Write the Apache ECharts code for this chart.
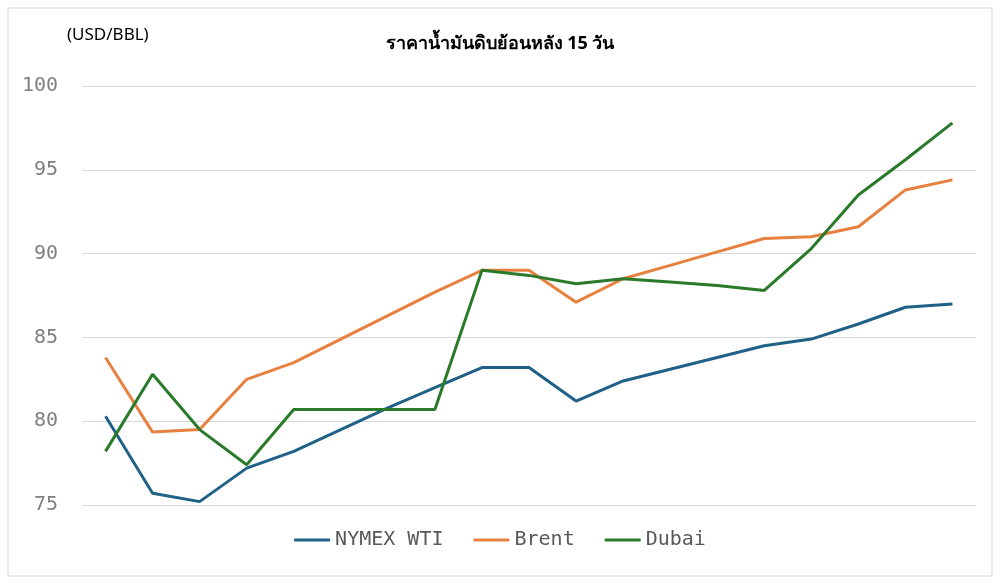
<!DOCTYPE html>
<html><head><meta charset="utf-8">
<script src="https://cdn.jsdelivr.net/npm/echarts@6/dist/echarts.min.js"></script>
<style>html,body{margin:0;background:#fff}#c{width:1000px;height:585px}</style>
</head><body><div id="c"></div>
<script>
const categories = ['1','2','3','4','5','6','7','8','9','10','11','12','13','14','15','16','17','18','19'];
const wti   = [80.3,75.7,75.2,77.2,78.2,79.5,80.8,82.0,83.2,83.2,81.2,82.4,83.1,83.8,84.5,84.9,85.8,86.8,87.0];
const brent = [83.8,79.35,79.5,82.5,83.5,84.9,86.3,87.7,89.0,89.0,87.1,88.5,89.3,90.1,90.9,91.0,91.6,93.8,94.4];
const dubai = [78.2,82.8,79.5,77.4,80.7,80.7,80.7,80.7,89.0,88.7,88.2,88.5,88.3,88.1,87.8,90.3,93.5,95.6,97.8];
const yTicks = {min:75,max:100,interval:5};
const chart = echarts.init(document.getElementById('c'));
const mk = (name,data,color)=>({name,type:'line',data,symbol:'none',lineStyle:{width:3,color},itemStyle:{color}});
chart.setOption({
  animation:false,
  graphic:[{type:'rect',shape:{x:8,y:8,width:984,height:568},style:{fill:'none',stroke:'#d9d9d9',lineWidth:1}}],
  title:[{text:'ราคาน้ำมันดิบย้อนหลัง 15 วัน',left:'center',top:30,textStyle:{fontSize:18,fontWeight:'bold',color:'#000',fontFamily:'Noto Sans, sans-serif'}},
         {text:'(USD/BBL)',left:62,top:22,textStyle:{fontSize:17,fontWeight:'normal',color:'#000',fontFamily:'Noto Sans, sans-serif'}}],
  legend:{bottom:30,itemGap:30,itemWidth:36,icon:'rect',itemHeight:3,textStyle:{fontSize:20,color:'#595959',fontFamily:'DejaVu Sans Mono, monospace'},data:['NYMEX WTI','Brent','Dubai']},
  grid:{left:82,right:24,top:86,bottom:80},
  xAxis:{type:'category',data:categories,boundaryGap:true,axisLine:{show:false},axisTick:{show:false},axisLabel:{show:false}},
  yAxis:{type:'value',min:yTicks.min,max:yTicks.max,interval:yTicks.interval,axisLine:{show:false},axisTick:{show:false},
    axisLabel:{fontSize:20,color:'#7f7f7f',fontFamily:'DejaVu Sans Mono, monospace',margin:24},splitLine:{lineStyle:{color:'#d9d9d9'}}},
  series:[mk('NYMEX WTI',wti,'#1f6187'),mk('Brent',brent,'#e8803f'),mk('Dubai',dubai,'#2a7a2a')]
});
</script></body></html>
